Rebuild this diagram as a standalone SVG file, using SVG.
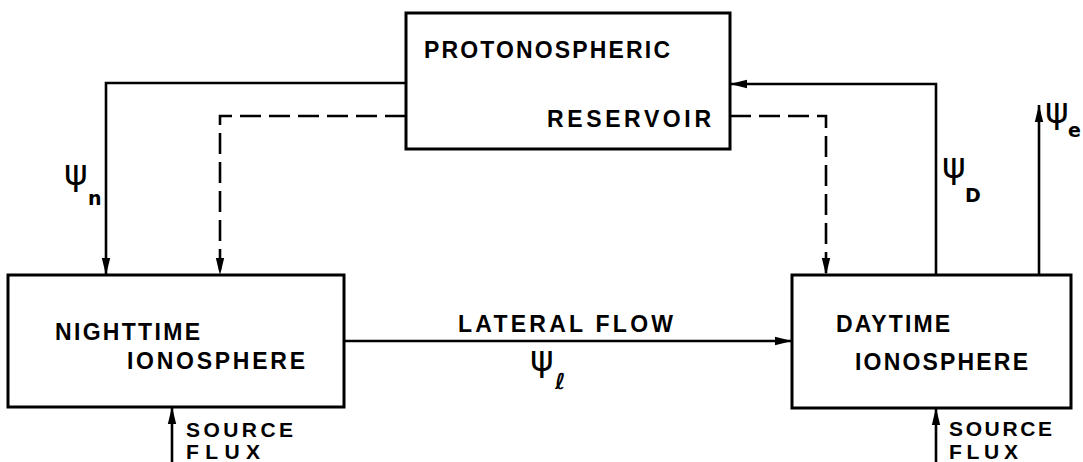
<svg xmlns="http://www.w3.org/2000/svg" width="1083" height="462" viewBox="0 0 1083 462">
<style>
.box{fill:none;stroke:#000;stroke-width:3}
.ln{fill:none;stroke:#000;stroke-width:2.6}
.dash{stroke-dasharray:21 8}
.lbl{font-family:"Liberation Sans",Arial,sans-serif;font-weight:bold;font-size:23px;fill:#000}
.sm{font-size:21px}
.psi{font-family:"DejaVu Sans","Liberation Sans",sans-serif;font-size:36px;fill:#000}
.sub{font-family:"DejaVu Sans","Liberation Sans",sans-serif;font-weight:bold;font-size:19px;fill:#000}
</style>
<defs>
<marker id="ah" markerUnits="userSpaceOnUse" markerWidth="18" markerHeight="10" refX="17" refY="5" orient="auto">
<path d="M0,0.8 L17,5 L0,9.2 Z" fill="#000"/>
</marker>
</defs>
<rect width="1083" height="462" fill="#fff"/>
<g id="reservoir">
<rect class="box" x="406" y="13" width="324" height="136"/>
<text class="lbl" x="424" y="58" textLength="246" lengthAdjust="spacing">PROTONOSPHERIC</text>
<text class="lbl" x="547" y="127" textLength="164" lengthAdjust="spacing">RESERVOIR</text>
</g>
<g id="nighttime">
<rect class="box" x="8" y="275" width="336" height="132"/>
<text class="lbl" x="55" y="340" textLength="145" lengthAdjust="spacing">NIGHTTIME</text>
<text class="lbl" x="127" y="369" textLength="178" lengthAdjust="spacing">IONOSPHERE</text>
</g>
<g id="daytime">
<rect class="box" x="792" y="275" width="279" height="133"/>
<text class="lbl" x="836" y="332" textLength="114" lengthAdjust="spacing">DAYTIME</text>
<text class="lbl" x="855" y="370" textLength="173" lengthAdjust="spacing">IONOSPHERE</text>
</g>
<g id="connectors">
<path class="ln" d="M406,83 H106 V275" marker-end="url(#ah)"/>
<path class="ln dash" d="M406,116 H220 V275" marker-end="url(#ah)"/>
<path class="ln" d="M344,341 H792" marker-end="url(#ah)"/>
<path class="ln dash" d="M730,116 H826 V275" marker-end="url(#ah)"/>
<path class="ln" d="M936,275 V84 H730" marker-end="url(#ah)"/>
<path class="ln" d="M1039,275 V105" marker-end="url(#ah)"/>
<path class="ln" d="M172,462 V407" marker-end="url(#ah)"/>
<path class="ln" d="M936,462 V408" marker-end="url(#ah)"/>
</g>
<g id="labels">
<text class="lbl" x="458" y="332" textLength="215" lengthAdjust="spacing">LATERAL FLOW</text>
<text class="lbl sm" x="186" y="437" textLength="107" lengthAdjust="spacing">SOURCE</text>
<text class="lbl sm" x="186" y="459" textLength="74" lengthAdjust="spacing">FLUX</text>
<text class="lbl sm" x="949" y="436" textLength="103" lengthAdjust="spacing">SOURCE</text>
<text class="lbl sm" x="949" y="459" textLength="69" lengthAdjust="spacing">FLUX</text>
<text class="psi" x="64" y="185">ψ</text><text class="sub" x="88" y="205">n</text>
<text class="psi" x="942" y="178">ψ</text><text class="sub" x="965" y="202">D</text>
<text class="psi" x="1045" y="123">ψ</text><text class="sub" x="1068" y="137">e</text>
<text class="psi" x="530" y="371">ψ</text><text class="sub" x="555" y="389" style="font-size:22px">ℓ</text>
</g>
</svg>
